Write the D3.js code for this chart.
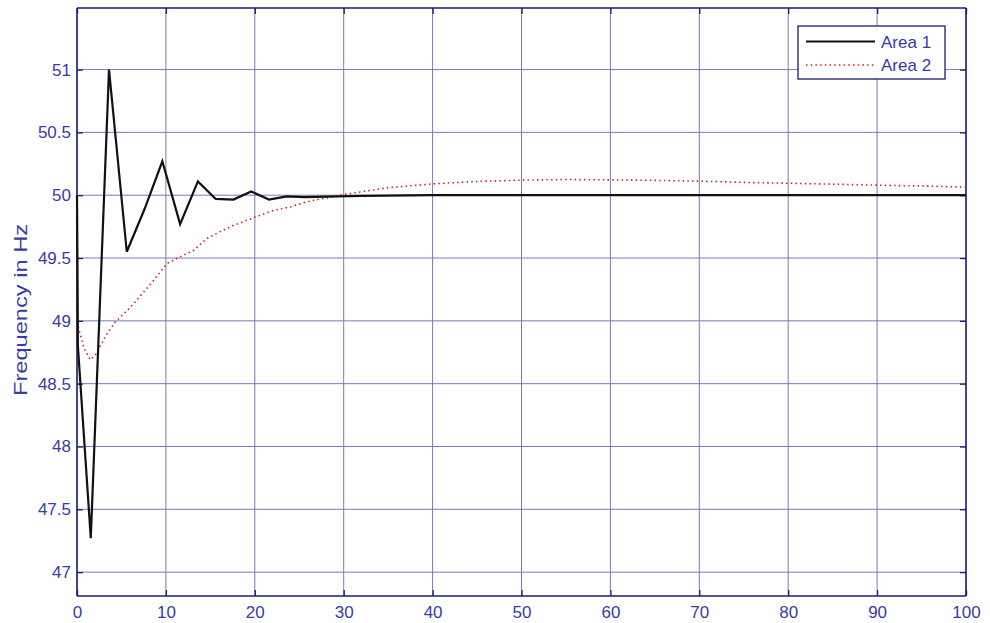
<!DOCTYPE html>
<html>
<head>
<meta charset="utf-8">
<script src="https://cdn.jsdelivr.net/npm/d3@7"></script>
<style>
  html, body { margin: 0; padding: 0; background: #ffffff; }
  svg { display: block; font-family: "Liberation Sans", Arial, sans-serif; }
</style>
</head>
<body>
<svg id="chart" width="990" height="623"></svg>
<script>
// Time (s) and frequency (Hz) samples for each control area
const area1Time = [0, 0.1, 1.55, 3.6, 5.6, 7.6, 9.6, 11.6, 13.6, 15.6, 17.6, 19.6, 21.6, 23.6, 25.6, 28, 32, 40, 60, 80, 100];
const area1Freq = [50, 48.8, 47.27, 51.0, 49.55, 49.89, 50.27, 49.77, 50.11, 49.97, 49.965, 50.03, 49.965, 49.99, 49.985, 49.988, 49.995, 50.0, 50.0, 50.0, 50.0];

const area2Time = [0, 0.1, 0.8, 1.5, 2.2, 2.6, 3.4, 4.3, 5.3, 6.3, 7.5, 8.6, 10.1, 11.6, 13.1, 14.6, 16.1, 17.6, 19.1, 20.6, 22.1, 24, 25.8, 27.3, 28.8, 30, 35, 40, 45, 50, 55, 60, 65, 70, 75, 80, 85, 90, 95, 100];
const area2Freq = [50, 48.96, 48.78, 48.69, 48.74, 48.8, 48.9, 48.99, 49.06, 49.13, 49.23, 49.32, 49.455, 49.51, 49.56, 49.655, 49.71, 49.76, 49.8, 49.84, 49.88, 49.907, 49.947, 49.97, 49.987, 50.005, 50.06, 50.09, 50.11, 50.12, 50.125, 50.122, 50.118, 50.112, 50.102, 50.095, 50.088, 50.08, 50.073, 50.065];

const xTicks = [0, 10, 20, 30, 40, 50, 60, 70, 80, 90, 100];
const yTicks = [47, 47.5, 48, 48.5, 49, 49.5, 50, 50.5, 51];
const seriesNames = ["Area 1", "Area 2"];
const yLabel = "Frequency in Hz";

const W = 990, H = 623;
const margin = { left: 77, right: 24, top: 8, bottom: 27 };
const svg = d3.select("#chart");

const x = d3.scaleLinear().domain([0, 100]).range([margin.left, W - margin.right]);
const y = d3.scaleLinear().domain([46.81, 51.49]).range([H - margin.bottom, margin.top]);

const frameColor = "#1c1c70";
const gridColor = "#7a7ab4";
const textColor = "#3a3aa6";
const fontSize = 17;

// Grid
const grid = svg.append("g");
grid.selectAll("line.gx").data(xTicks).join("line")
  .attr("x1", d => x(d)).attr("x2", d => x(d))
  .attr("y1", y.range()[1]).attr("y2", y.range()[0])
  .attr("stroke", gridColor).attr("stroke-width", 1);
grid.selectAll("line.gy").data(yTicks).join("line")
  .attr("y1", d => y(d)).attr("y2", d => y(d))
  .attr("x1", x.range()[0]).attr("x2", x.range()[1])
  .attr("stroke", gridColor).attr("stroke-width", 1);

// Axes with inward ticks
const axisB = svg.append("g").attr("transform", `translate(0,${y.range()[0]})`)
  .call(d3.axisBottom(x).tickValues(xTicks).tickSize(-6).tickPadding(10).tickFormat(d3.format("d")));
const axisT = svg.append("g").attr("transform", `translate(0,${y.range()[1]})`)
  .call(d3.axisTop(x).tickValues(xTicks).tickSize(-6).tickFormat(""));
const axisL = svg.append("g").attr("transform", `translate(${x.range()[0]},0)`)
  .call(d3.axisLeft(y).tickValues(yTicks).tickSize(-6).tickPadding(6).tickFormat(d => String(d)));
const axisR = svg.append("g").attr("transform", `translate(${x.range()[1]},0)`)
  .call(d3.axisRight(y).tickValues(yTicks).tickSize(-6).tickFormat(""));

[axisB, axisT, axisL, axisR].forEach(g => {
  g.select(".domain").attr("stroke", frameColor).attr("stroke-width", 1.5);
  g.selectAll(".tick line").attr("stroke", frameColor).attr("stroke-width", 1.3);
  g.selectAll(".tick text").attr("fill", textColor).attr("font-size", fontSize)
    .attr("font-family", "'Liberation Sans', Arial, sans-serif");
});
axisB.selectAll(".domain").attr("d", `M${x.range()[0]},0H${x.range()[1]}`);
axisT.selectAll(".domain").attr("d", `M${x.range()[0]},0H${x.range()[1]}`);
axisL.selectAll(".domain").attr("d", `M0,${y.range()[1]}V${y.range()[0]}`);
axisR.selectAll(".domain").attr("d", `M0,${y.range()[1]}V${y.range()[0]}`);

// Y axis label
svg.append("text")
  .attr("transform", `translate(27,310) rotate(-90)`)
  .attr("text-anchor", "middle")
  .attr("fill", textColor).attr("font-size", 19)
  .attr("textLength", 172).attr("lengthAdjust", "spacingAndGlyphs")
  .text(yLabel);

// Series lines
const line = d3.line().x(d => x(d[0])).y(d => y(d[1]));
const area2Pts = area2Time.map((t, i) => [t, area2Freq[i]]);
const area1Pts = area1Time.map((t, i) => [t, area1Freq[i]]);

svg.append("path").datum(area2Pts)
  .attr("d", line).attr("fill", "none")
  .attr("stroke", "#d42020").attr("stroke-width", 1.6)
  .attr("stroke-dasharray", "1.5,3.2");

svg.append("path").datum(area1Pts)
  .attr("d", line).attr("fill", "none")
  .attr("stroke", "#111111").attr("stroke-width", 2.2)
  .attr("stroke-linejoin", "miter");

// Legend
const lg = svg.append("g");
lg.append("rect").attr("x", 798).attr("y", 26).attr("width", 147).attr("height", 53)
  .attr("fill", "#ffffff").attr("stroke", frameColor).attr("stroke-width", 1.3);
const legendStyles = [
  { stroke: "#111111", width: 2, dash: null },
  { stroke: "#d42020", width: 1.5, dash: "1.5,3.2" }
];
seriesNames.forEach((name, i) => {
  const yy = 41.5 + i * 23.5;
  lg.append("line").attr("x1", 806).attr("x2", 875).attr("y1", yy).attr("y2", yy)
    .attr("stroke", legendStyles[i].stroke).attr("stroke-width", legendStyles[i].width)
    .attr("stroke-dasharray", legendStyles[i].dash);
  lg.append("text").attr("x", 881).attr("y", yy + 6)
    .attr("fill", textColor).attr("font-size", fontSize).text(name);
});
</script>
</body>
</html>
